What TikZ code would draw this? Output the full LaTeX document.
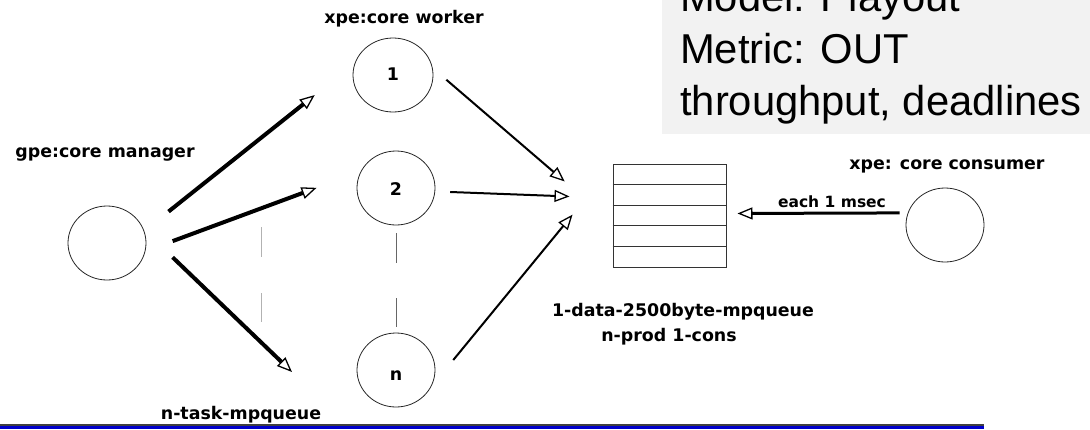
\documentclass[tikz,border=0pt]{standalone}
\usepackage{fontspec}
\setmainfont{Liberation Sans}
\newfontfamily\lblfont{DejaVu Sans}
\usetikzlibrary{arrows.meta,shapes.geometric,calc}
\definecolor{panel}{HTML}{F2F2F2}
\definecolor{barblue}{HTML}{0000CC}
\begin{document}
\begin{tikzpicture}[x=1pt,y=-1pt,
  proc/.style={ellipse, draw=black!85, line width=0.8pt, minimum width=78pt, minimum height=74pt, inner sep=0pt},
  lbl/.style={font=\lblfont\bfseries\fontsize{17.4}{20}\selectfont, anchor=base, inner sep=0pt},
  info/.style={font=\fontsize{41.75}{50}\selectfont, anchor=base west, inner sep=0pt},
  head/.style={-{Triangle[open, length=15pt, width=12pt, line width=1.3pt]}},
  feed/.style={head, line width=4pt},
  put/.style={head, line width=2pt},
]
\useasboundingbox (0,0) rectangle (1090,429);

% info panel
\fill[panel] (662,0) rectangle (1090,134);
\node[info] (l1) at (680,11) {Model: Playout};
\node[info] (l2) at (680,63) {Metric: OUT};
\node[info] (l3) at (680,115) {throughput, deadlines};

% processes
\node[proc] (mgr) at (107,243) {};
\node[proc, minimum width=80pt] (w1) at (393,75) {};
\node[proc] (w2) at (396,188) {};
\node[proc] (wn) at (396,370) {};
\node[proc] (cons) at (945,225) {};
\node[lbl] (w1num) at (393,80) {1};
\node[lbl] (w2num) at (396,195) {2};
\node[lbl] (wnnum) at (396,380) {n};

% data queue
\node[draw=black!80, line width=1pt, minimum width=113pt, minimum height=103pt, inner sep=0pt] (queue) at (669.5,215.5) {};
\foreach \k in {1,...,4}
  \draw[black!80, line width=1pt] ($(queue.north west)!\k/5!(queue.south west)$) -- ($(queue.north east)!\k/5!(queue.south east)$);

% labels
\node[lbl] (wtitle) at (404,23.5) {xpe:core worker};
\node[lbl] (mtitle) at (105,157) {gpe:core manager};
\node[lbl] (tq) at (241,419.5) {n-task-mpqueue};
\node[lbl] (ctitle) at (947,169.5) {xpe: core consumer};
\node[lbl, font=\lblfont\bfseries\fontsize{15.5}{18}\selectfont] (rate) at (832,207) {each 1 msec};
\node[lbl] (dq1) at (683,316.5) {1-data-2500byte-mpqueue};
\node[lbl] (dq2) at (669,341.5) {n-prod 1-cons};

% task queue: manager to workers
\coordinate (t3) at (292,372);
\draw[feed, shorten <=31pt, shorten >=51pt] (mgr.18) -- (w1.163);
\draw[feed, shorten <=29pt, shorten >=47pt] (mgr.-12) -- (w2.155);
\draw[feed, shorten <=40pt] (mgr.20) -- (t3);

% workers to data queue
\draw[put, shorten <=18pt, shorten >=63pt] (w1.10) -- (queue.187.6);
\draw[put, shorten <=15pt, shorten >=43pt] (w2.-5) -- (queue.163.5);
\draw[put, shorten <=35pt, shorten >=63pt] (wn.-26) -- (queue.139);

% consumer polling
\draw[head, line width=3pt, shorten <=8pt, shorten >=11pt] (cons.162) -- (queue.2.5);

% ellipsis marks
\draw[black!60, line width=1pt, dash pattern=on 30pt off 35pt on 30pt, shorten <=8pt, shorten >=6pt] (w2.south) -- (wn.north);
\draw[gray!60, line width=1pt, dash pattern=on 30pt off 36pt on 29pt] (261,227) -- (261,322);

% footer rule
\fill[barblue] (0,426) rectangle (984,429);
\draw[black!75, line width=1.5pt] (0,425) -- (984,425);
\end{tikzpicture}
\end{document}
